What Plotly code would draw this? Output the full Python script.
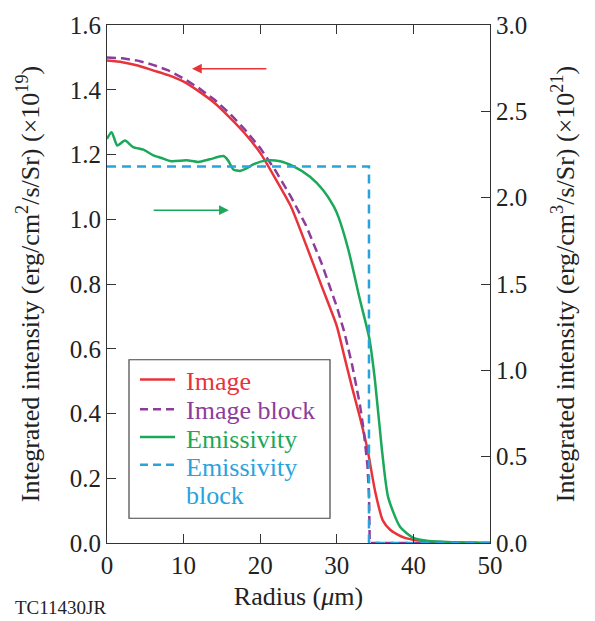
import plotly.graph_objects as go

# Image (left axis, x1e19)
r_image = [0, 2, 4, 6, 8, 10, 12, 14, 16, 18, 20, 22, 24, 26, 28, 30, 31, 32, 33, 34, 35, 36, 37, 38, 39, 40, 42, 45, 50]
v_image = [1.490, 1.485, 1.475, 1.46, 1.445, 1.425, 1.395, 1.36, 1.315, 1.265, 1.205, 1.125, 1.04, 0.92, 0.795,
           0.67, 0.575, 0.48, 0.39, 0.29, 0.16, 0.07, 0.04, 0.025, 0.015, 0.01, 0.005, 0.002, 0.0]

# Image block (left axis)
r_imblock = [0, 2, 4, 6, 8, 10, 12, 14, 16, 18, 20, 22, 24, 26, 28, 30, 31, 32, 33, 33.5, 34, 34.2, 34.3, 50]
v_imblock = [1.50, 1.497, 1.49, 1.477, 1.46, 1.435, 1.405, 1.37, 1.327, 1.277, 1.22, 1.15, 1.07, 0.98, 0.865,
             0.73, 0.65, 0.55, 0.43, 0.35, 0.24, 0.15, 0.0, 0.0]

# Emissivity (right axis, x1e21)
r_emis = [0, 0.6, 1.35, 2.35, 3.4, 4.75, 6.05, 7.1, 8.4, 10.4, 11.9, 13.4, 15.2, 15.8, 16.5, 17.4, 18.2, 19.1,
          20.8, 22.6, 24.3, 26.5, 28.2, 29.6, 30.2, 31.5, 33.0, 34.25, 35.0, 35.86, 36.7, 38.25, 40, 42, 45, 50]
v_emis = [2.341, 2.379, 2.302, 2.331, 2.293, 2.278, 2.245, 2.230, 2.211, 2.216, 2.207, 2.222, 2.241, 2.216,
          2.163, 2.155, 2.169, 2.193, 2.216, 2.211, 2.182, 2.121, 2.044, 1.949, 1.89, 1.70, 1.413, 1.184,
          0.935, 0.553, 0.266, 0.094, 0.03, 0.012, 0.005, 0.0]

# Emissivity block (right axis)
r_emblock = [0, 34.2, 34.2, 50]
v_emblock = [2.18, 2.18, 0.0, 0.0]

RED = "#e8333b"
PURPLE = "#8e3c9b"
GREEN = "#1ba85a"
BLUE = "#29a3dd"
FONT = "Liberation Serif"

legend_labels = ["Image", "Image block", "Emissivity", "Emissivity"]
legend_colors = [RED, PURPLE, GREEN, BLUE]
legend_dashes = ["solid", "8px,5px", "solid", "8px,5px"]

fig = go.Figure()
fig.add_trace(go.Scatter(x=r_image, y=v_image, mode="lines",
                         line=dict(color=RED, width=2.5, shape="spline", smoothing=0.6), name="Image"))
fig.add_trace(go.Scatter(x=r_imblock, y=v_imblock, mode="lines",
                         line=dict(color=PURPLE, width=2.5, dash="9px,5px"), name="Image block"))
fig.add_trace(go.Scatter(x=r_emis, y=v_emis, mode="lines", yaxis="y2",
                         line=dict(color=GREEN, width=2.5, shape="spline", smoothing=0.6), name="Emissivity"))
fig.add_trace(go.Scatter(x=r_emblock, y=v_emblock, mode="lines", yaxis="y2",
                         line=dict(color=BLUE, width=2.5, dash="9px,6px"), name="Emissivity block"))

axis_common = dict(showgrid=False, zeroline=False, showline=True, linecolor="#333", linewidth=1.2,
                   ticks="inside", ticklen=9, tickcolor="#333", tickwidth=1.2,
                   tickfont=dict(family=FONT, size=25, color="#222"))

fig.update_layout(
    width=595, height=621,
    margin=dict(l=107, r=105, t=20, b=78),
    paper_bgcolor="white", plot_bgcolor="white",
    font=dict(family=FONT, color="#222"),
    showlegend=False,
    xaxis=dict(range=[0, 50], tickvals=[0, 10, 20, 30, 40, 50], mirror="ticks",
               title=dict(text="Radius (<i>μ</i>m)", font=dict(family=FONT, size=26), standoff=8),
               **axis_common),
    yaxis=dict(range=[0, 1.6], tickvals=[0, 0.2, 0.4, 0.6, 0.8, 1.0, 1.2, 1.4, 1.6], tickformat=".1f",
               title=dict(text="Integrated intensity (erg/cm<sup>2</sup>/s/Sr) (×10<sup>19</sup>)",
                          font=dict(family=FONT, size=26), standoff=22),
               **axis_common),
    yaxis2=dict(range=[0, 3.0], tickvals=[0, 0.5, 1.0, 1.5, 2.0, 2.5, 3.0], tickformat=".1f",
                overlaying="y", side="right",
                title=dict(text="Integrated intensity (erg/cm<sup>3</sup>/s/Sr) (×10<sup>21</sup>)",
                           font=dict(family=FONT, size=26), standoff=29),
                **axis_common),
)

# Legend box (drawn by hand to match the reference's compact layout)
X0, X1 = 107, 490
Y0, Y1 = 543, 20
def px(x):
    return (x - X0) / (X1 - X0)
def py(y):
    return (Y0 - y) / (Y0 - Y1)

fig.add_shape(type="rect", xref="paper", yref="paper", x0=px(129), x1=px(330), y0=py(518), y1=py(358),
              line=dict(color="#444", width=1.2), fillcolor="white", layer="above")
sample_y = [378, 408, 436, 464]
text_y = [380, 409, 438, 467]
for lab, col, dsh, ly, ty in zip(legend_labels, legend_colors, legend_dashes, sample_y, text_y):
    fig.add_shape(type="line", xref="paper", yref="paper", x0=px(140), x1=px(175), y0=py(ly), y1=py(ly),
                  line=dict(color=col, width=2.5, dash=dsh), layer="above")
    fig.add_annotation(x=px(184), y=py(ty), xref="paper", yref="paper", text=lab, showarrow=False,
                       xanchor="left", yanchor="middle", align="left",
                       font=dict(family=FONT, size=26, color=col))
fig.add_annotation(x=px(184), y=py(495), xref="paper", yref="paper", text="block", showarrow=False,
                   xanchor="left", yanchor="middle", align="left",
                   font=dict(family=FONT, size=26, color=BLUE))

# Arrows
fig.add_annotation(x=11.1, y=1.465, ax=21.0, ay=1.465, xref="x", yref="y", axref="x", ayref="y",
                   showarrow=True, arrowhead=2, arrowsize=1.3, arrowwidth=1.5, arrowcolor=RED, text="")
fig.add_annotation(x=15.9, y=1.028, ax=5.9, ay=1.028, xref="x", yref="y", axref="x", ayref="y",
                   showarrow=True, arrowhead=2, arrowsize=1.3, arrowwidth=1.5, arrowcolor=GREEN, text="")

fig.add_annotation(x=px(13), y=py(608), xref="paper", yref="paper", text="TC11430JR", showarrow=False,
                   xanchor="left", yanchor="middle", font=dict(family=FONT, size=19, color="#222"))

fig.write_html("out.html")
